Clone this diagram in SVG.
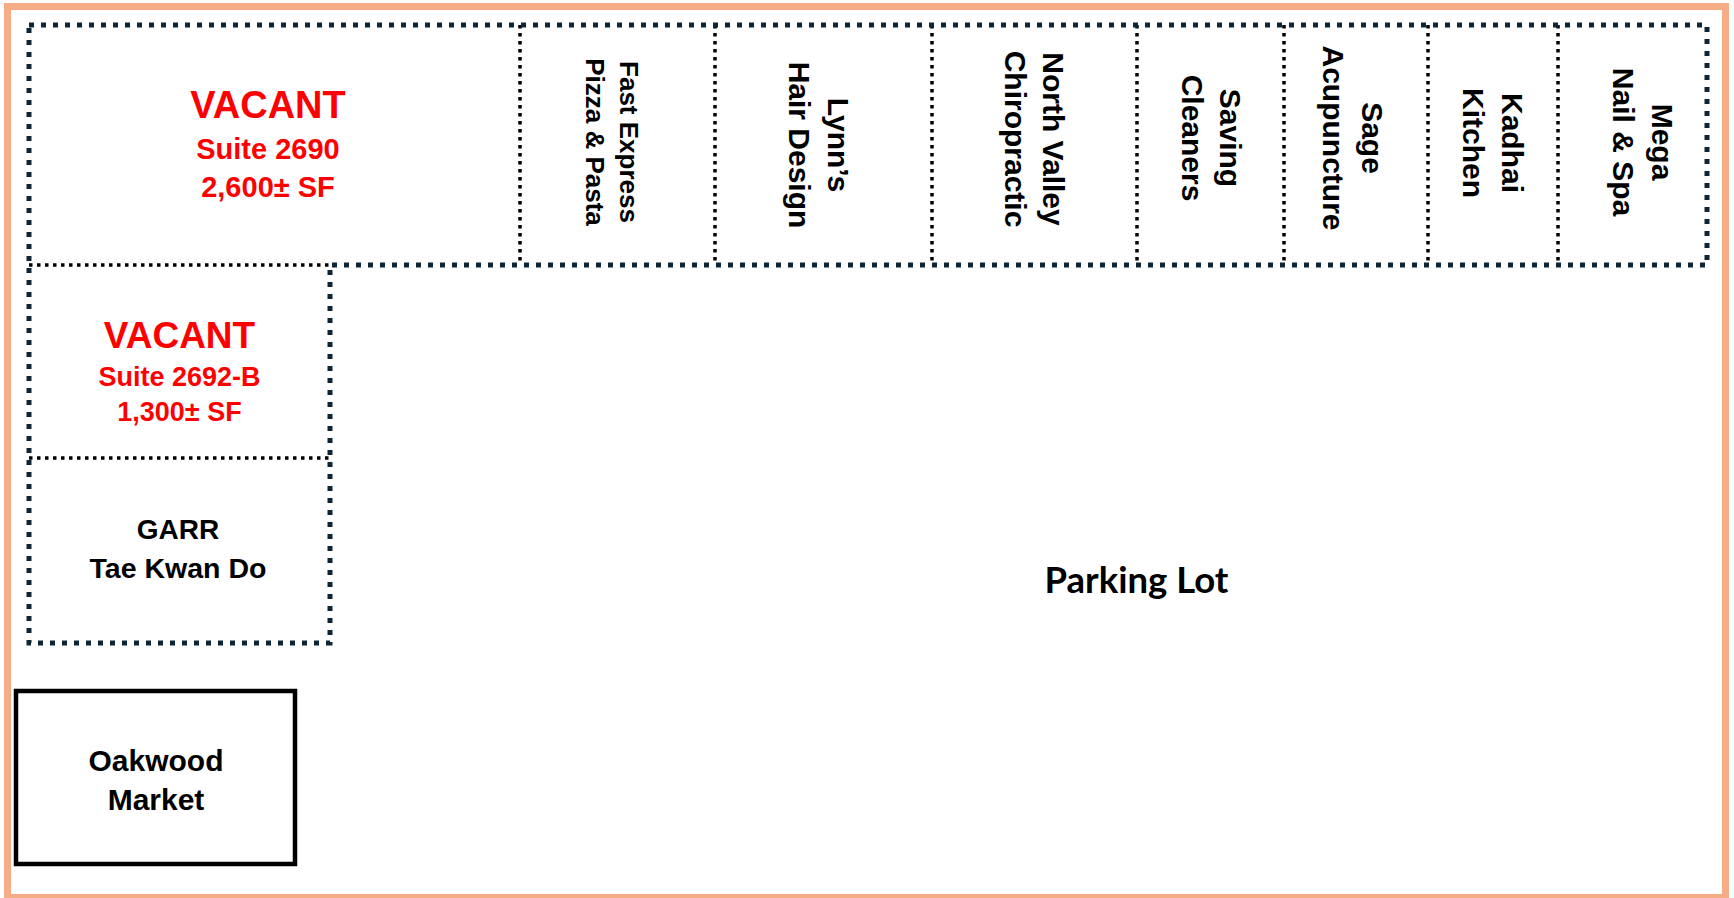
<svg xmlns="http://www.w3.org/2000/svg" width="1734" height="898" viewBox="0 0 1734 898">
<style>
  .t { font-family: "Liberation Sans", Arial, sans-serif; font-weight: bold; fill: #000; text-anchor: middle; }
  .red { fill: #FF0000; }
  .thick { fill: none; stroke: #0E2535; stroke-width: 5; stroke-dasharray: 5 7; }
  .thin { fill: none; stroke: #000; stroke-width: 3.5; stroke-dasharray: 3.5 4.5; }
  .r30 { font-size: 30px; }
</style>
<rect x="0" y="0" width="1734" height="898" fill="#FFFFFF"/>
<rect id="frame" x="7.5" y="6.5" width="1718" height="891" fill="none" stroke="#F4AD85" stroke-width="7"/>

<g id="connectors">
  <line class="thin" x1="520" y1="25" x2="520" y2="265"/>
  <line class="thin" x1="715" y1="25" x2="715" y2="265"/>
  <line class="thin" x1="932" y1="25" x2="932" y2="265"/>
  <line class="thin" x1="1137" y1="25" x2="1137" y2="265"/>
  <line class="thin" x1="1284" y1="25" x2="1284" y2="265"/>
  <line class="thin" x1="1428" y1="25" x2="1428" y2="265"/>
  <line class="thin" x1="1558" y1="25" x2="1558" y2="265"/>
  <line class="thin" x1="29" y1="265" x2="330" y2="265"/>
  <line class="thin" x1="29" y1="458" x2="330" y2="458"/>
  <path class="thick" d="M29,25 H1707 V265 H330 V643 H29 Z"/>
</g>

<g id="suite-2690">
  <text class="t red" x="268" y="118" font-size="38">VACANT</text>
  <text class="t red" x="268" y="159" font-size="29">Suite 2690</text>
  <text class="t red" x="268" y="197" font-size="29">2,600± SF</text>
</g>

<g id="fast-express" transform="translate(617.5,142) rotate(90)">
  <text class="t" x="0" y="-2.5" font-size="26">Fast Express</text>
  <text class="t" x="0" y="31.2" font-size="26">Pizza &amp; Pasta</text>
</g>

<g id="lynns" transform="translate(823.5,145) rotate(90)">
  <text class="t r30" x="0" y="-4">Lynn’s</text>
  <text class="t r30" x="0" y="35">Hair Design</text>
</g>

<g id="north-valley" transform="translate(1034.5,139) rotate(90)">
  <text class="t r30" x="0" y="-8.5">North Valley</text>
  <text class="t r30" x="0" y="29.5">Chiropractic</text>
</g>

<g id="saving-cleaners" transform="translate(1210,138) rotate(90)">
  <text class="t r30" x="0" y="-10">Saving</text>
  <text class="t r30" x="0" y="28.3">Cleaners</text>
</g>

<g id="sage" transform="translate(1356,138) rotate(90)">
  <text class="t r30" x="0" y="-6">Sage</text>
  <text class="t r30" x="0" y="33.5">Acupuncture</text>
</g>

<g id="kadhai" transform="translate(1493,143) rotate(90)">
  <text class="t r30" x="0" y="-8.7">Kadhai</text>
  <text class="t r30" x="0" y="29.7">Kitchen</text>
</g>

<g id="mega" transform="translate(1632.5,142) rotate(90)">
  <text class="t r30" x="0" y="-19.2">Mega</text>
  <text class="t r30" x="0" y="19.8">Nail &amp; Spa</text>
</g>

<g id="suite-2692b">
  <text class="t red" x="179.5" y="348" font-size="37">VACANT</text>
  <text class="t red" x="179.5" y="386" font-size="27">Suite 2692-B</text>
  <text class="t red" x="179.5" y="421" font-size="27">1,300± SF</text>
</g>

<g id="garr">
  <text class="t" x="178" y="539" font-size="28">GARR</text>
  <text class="t" x="178" y="578" font-size="28.5">Tae Kwan Do</text>
</g>

<g id="oakwood">
  <rect x="16" y="691" width="279" height="173" fill="none" stroke="#000" stroke-width="4.5"/>
  <text class="t" x="156" y="771" font-size="30">Oakwood</text>
  <text class="t" x="156" y="810" font-size="30">Market</text>
</g>

<g id="parking-lot">
  <text x="1136.5" y="593" font-family="Lato, 'Liberation Sans', sans-serif" font-weight="bold" font-size="36.5" text-anchor="middle" fill="#000">Parking Lot</text>
</g>
</svg>
